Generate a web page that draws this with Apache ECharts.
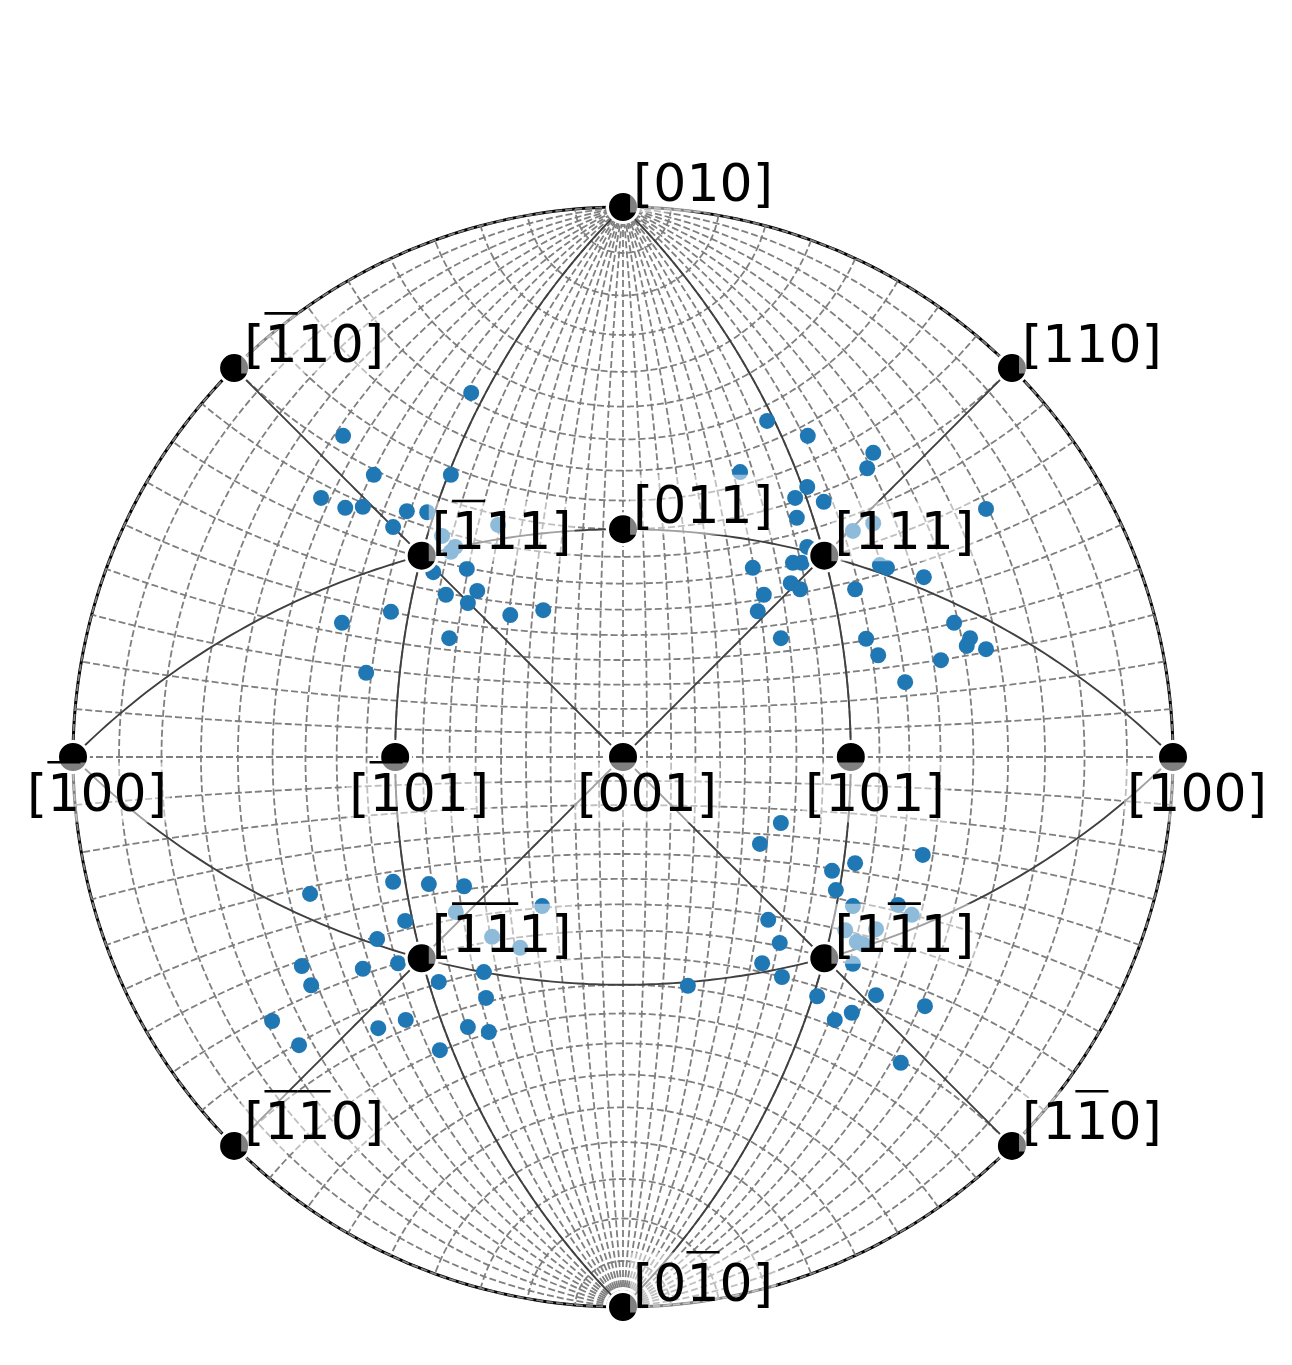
<!DOCTYPE html>
<html>
<head>
<meta charset="utf-8">
<script src="https://cdn.jsdelivr.net/npm/echarts@6/dist/echarts.min.js"></script>
<style>
html, body { margin: 0; padding: 0; background: #fff; }
#chart { width: 1292px; height: 1365px; }
</style>
</head>
<body>
<div id="chart"></div>
<script>
// poles that get a marker + label (miller indices)
var poleIdx = [
    [0, 1, 0], [-1, 1, 0], [1, 1, 0], [-1, 1, 1], [0, 1, 1], [1, 1, 1],
    [-1, 0, 0], [-1, 0, 1], [0, 0, 1], [1, 0, 1], [1, 0, 0],
    [-1, -1, 1], [1, -1, 1], [-1, -1, 0], [1, -1, 0], [0, -1, 0]
];
// zone great circles (plane normals), solid lines
var zoneNormals = [[1, 0, 1], [1, 0, -1], [0, 1, -1], [0, 1, 1], [1, 1, 0], [1, -1, 0]];

// measured orientations, projected coordinates (unit circle)
var grainsTL = [
    [-0.276, 0.662], [-0.509, 0.584], [-0.453, 0.513], [-0.313, 0.513], [-0.549, 0.471],
    [-0.505, 0.453], [-0.473, 0.455], [-0.393, 0.447], [-0.356, 0.445], [-0.418, 0.418],
    [-0.329, 0.402], [-0.305, 0.382], [-0.313, 0.373], [-0.227, 0.422], [-0.345, 0.336],
    [-0.284, 0.342], [-0.322, 0.295], [-0.265, 0.302], [-0.282, 0.280], [-0.205, 0.258],
    [-0.145, 0.267], [-0.422, 0.264], [-0.511, 0.244], [-0.316, 0.216], [-0.467, 0.153]
];
var grainsTR = [
    [0.262, 0.611], [0.336, 0.584], [0.455, 0.553], [0.444, 0.525], [0.213, 0.518],
    [0.335, 0.491], [0.313, 0.471], [0.365, 0.464], [0.316, 0.435], [0.660, 0.451],
    [0.455, 0.425], [0.418, 0.411], [0.335, 0.382], [0.309, 0.353], [0.325, 0.353],
    [0.236, 0.344], [0.467, 0.349], [0.480, 0.344], [0.547, 0.327], [0.305, 0.316],
    [0.322, 0.305], [0.422, 0.305], [0.256, 0.295], [0.245, 0.265], [0.602, 0.244],
    [0.631, 0.216], [0.625, 0.202], [0.660, 0.196], [0.442, 0.215], [0.464, 0.185],
    [0.287, 0.216], [0.578, 0.176], [0.513, 0.136]
];
var grainsBL = [
    [-0.569, -0.249], [-0.418, -0.227], [-0.353, -0.231], [-0.289, -0.235], [-0.304, -0.282],
    [-0.147, -0.271], [-0.396, -0.298], [-0.238, -0.327], [-0.187, -0.347], [-0.447, -0.331],
    [-0.584, -0.380], [-0.473, -0.385], [-0.409, -0.375], [-0.567, -0.415], [-0.335, -0.409],
    [-0.253, -0.391], [-0.249, -0.438], [-0.638, -0.480], [-0.589, -0.524], [-0.445, -0.493],
    [-0.395, -0.478], [-0.282, -0.491], [-0.244, -0.500], [-0.333, -0.533]
];
var grainsBR = [
    [0.287, -0.120], [0.249, -0.158], [0.545, -0.178], [0.422, -0.193], [0.380, -0.207],
    [0.387, -0.242], [0.418, -0.271], [0.500, -0.269], [0.525, -0.287], [0.264, -0.296],
    [0.404, -0.315], [0.460, -0.313], [0.425, -0.336], [0.436, -0.340], [0.285, -0.338],
    [0.418, -0.376], [0.253, -0.375], [0.289, -0.400], [0.118, -0.416], [0.353, -0.435],
    [0.460, -0.433], [0.549, -0.453], [0.416, -0.465], [0.385, -0.478], [0.505, -0.556]
];

var D = Math.PI / 180;
function norm(v) {
    var l = Math.sqrt(v[0] * v[0] + v[1] * v[1] + v[2] * v[2]);
    return [v[0] / l, v[1] / l, v[2] / l];
}
function cross(a, b) {
    return [a[1] * b[2] - a[2] * b[1], a[2] * b[0] - a[0] * b[2], a[0] * b[1] - a[1] * b[0]];
}
// stereographic projection, [001] at the centre
function proj(v) {
    v = norm(v);
    return [v[0] / (1 + v[2]), v[1] / (1 + v[2])];
}
function sph(lat, lon) {
    return [Math.cos(lat * D) * Math.cos(lon * D), Math.sin(lat * D), Math.cos(lat * D) * Math.sin(lon * D)];
}

// wulff net, 5 degree steps, poles at [010] / [0-10]
var netLines = [];
for (var lon = 0; lon <= 180; lon += 5) {
    var c = [];
    for (var lat = -90; lat <= 90; lat += 1) c.push(proj(sph(lat, lon)));
    netLines.push({ coords: c });
}
for (var lat2 = -85; lat2 <= 85; lat2 += 5) {
    var c2 = [];
    for (var lon2 = 0; lon2 <= 180; lon2 += 1) c2.push(proj(sph(lat2, lon2)));
    netLines.push({ coords: c2 });
}

var rim = [];
for (var a = 0; a <= 360; a += 1) rim.push([Math.cos(a * D), Math.sin(a * D)]);

var zoneLines = zoneNormals.map(function (n) {
    n = norm(n);
    var u = norm(cross(n, [0, 0, 1]));
    var v = norm(cross(n, u));
    if (v[2] < 0) v = [-v[0], -v[1], -v[2]];
    var c = [];
    for (var t = 0; t <= 180; t += 1) {
        var ct = Math.cos(t * D), st = Math.sin(t * D);
        c.push(proj([ct * u[0] + st * v[0], ct * u[1] + st * v[1], ct * u[2] + st * v[2]]));
    }
    return { coords: c };
});

var poleData = poleIdx.map(function (m) { return proj(m); });
var grains = grainsTL.concat(grainsTR, grainsBL, grainsBR);

// text metrics for the labels (overbars on negative indices)
var FONT = 52;
var ctx = document.createElement('canvas').getContext('2d');
ctx.font = FONT + 'px "DejaVu Sans"';
ctx.textBaseline = 'middle';
var wBr = ctx.measureText('[').width;
var wDg = ctx.measureText('0').width;
var mDg = ctx.measureText('0');
var digAsc = mDg.actualBoundingBoxAscent || 20;
var digDesc = mDg.actualBoundingBoxDescent || 18;

function renderLabel(params, api) {
    var m = poleIdx[params.dataIndex];
    var p = api.coord([api.value(0), api.value(1)]);
    var txt = '[' + m.map(function (h) { return Math.abs(h); }).join('') + ']';
    var w = ctx.measureText(txt).width;
    var cx = p[0] + (m[1] === 0 ? 24 : 80);
    var cy = p[1] + (m[1] === 0 ? 40 : -20);
    var x0 = cx - w / 2;
    var top = cy - digAsc;
    var bot = cy + digDesc;
    var kids = [{
        type: 'rect',
        shape: { x: x0 - 3, y: top - 9, width: w + 6, height: bot - top + 20 },
        style: { fill: 'rgba(255,255,255,0.5)' }
    }, {
        type: 'text',
        x: cx, y: cy,
        style: {
            text: txt, fill: '#000',
            fontSize: FONT, fontFamily: 'DejaVu Sans',
            align: 'center', verticalAlign: 'middle'
        }
    }];
    m.forEach(function (h, i) {
        if (h < 0) {
            kids.push({
                type: 'rect',
                shape: { x: x0 + wBr + i * wDg, y: top - 10.5, width: wDg, height: 2.6 },
                style: { fill: '#000' }
            });
        }
    });
    return { type: 'group', children: kids };
}

var chart = echarts.init(document.getElementById('chart'));
chart.setOption({
    animation: false,
    grid: { left: 73, top: 207, width: 1100, height: 1100 },
    xAxis: { type: 'value', min: -1, max: 1, show: false },
    yAxis: { type: 'value', min: -1, max: 1, show: false },
    series: [
        {
            type: 'lines', coordinateSystem: 'cartesian2d', polyline: true, silent: true, z: 1,
            data: [{ coords: rim }],
            lineStyle: { color: '#000', width: 3, opacity: 1 }
        },
        {
            type: 'lines', coordinateSystem: 'cartesian2d', polyline: true, silent: true, z: 2,
            data: netLines,
            lineStyle: { color: '#7f7f7f', width: 1.8, type: [7, 3], opacity: 1 }
        },
        {
            type: 'lines', coordinateSystem: 'cartesian2d', polyline: true, silent: true, z: 3,
            data: zoneLines,
            lineStyle: { color: '#404040', width: 1.9, opacity: 1 }
        },
        {
            type: 'scatter', z: 4, clip: false, silent: true,
            symbolSize: 16,
            itemStyle: { color: '#1f77b4', opacity: 1 },
            data: grains
        },
        {
            type: 'scatter', z: 5, clip: false, silent: true,
            symbolSize: 31,
            itemStyle: { color: '#000', borderColor: '#fff', borderWidth: 3, opacity: 1 },
            data: poleData
        },
        {
            type: 'custom', z: 6, silent: true,
            renderItem: renderLabel,
            data: poleData
        }
    ]
});
</script>
</body>
</html>
